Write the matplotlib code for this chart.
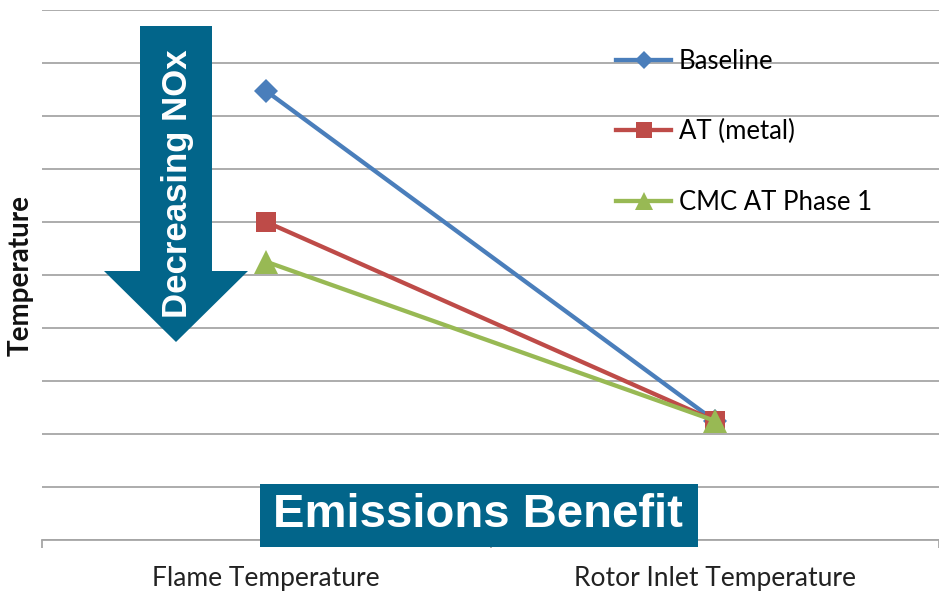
import matplotlib
matplotlib.use("Agg")
import matplotlib.pyplot as plt
from matplotlib.patches import Polygon, Rectangle

# Chart data
categories = ["Flame Temperature", "Rotor Inlet Temperature"]
series_names = ["Baseline", "AT (metal)", "CMC AT Phase 1"]
baseline = [8.47, 2.25]
at_metal = [6.0, 2.25]
cmc_at_phase1 = [5.25, 2.25]
y_gridlines = list(range(0, 11))

colors = ["#4A7EBB", "#BE4B48", "#98B954"]
markers = ["D", "s", "^"]
marker_sizes = [12, 15, 17]
teal = "#02658A"
body_font = "Lato"
bold_font = "Liberation Sans"

W, H = 939, 591
fig = plt.figure(figsize=(W / 100, H / 100), dpi=100)
fig.patch.set_facecolor("white")

def fx(px):
    return px / W

def fy(py):
    return 1 - py / H

ax = fig.add_axes([fx(42), fy(540), fx(939) - fx(42), fy(10) - fy(540)])
ax.set_xlim(-0.5, 1.5)
ax.set_ylim(0, 10)

x = list(range(len(categories)))
for vals, name, c, m, ms in zip([baseline, at_metal, cmc_at_phase1],
                                series_names, colors, markers, marker_sizes):
    ax.plot(x, vals, color=c, lw=3.1, marker=m, ms=ms, mec=c, mew=0,
            label=name, zorder=3, clip_on=False)

# Horizontal gridlines
ax.set_yticks(y_gridlines)
ax.yaxis.grid(True, color="#A6A6A6", lw=1.3)
ax.set_axisbelow(True)
ax.tick_params(axis="y", length=0, labelleft=False)
for s in ["left", "right", "top"]:
    ax.spines[s].set_visible(False)
ax.spines["bottom"].set_color("#A6A6A6")
ax.spines["bottom"].set_linewidth(1.3)

ax.set_xticks(x)
ax.set_xticklabels(categories, fontsize=19, family=body_font, color="#222222")
ax.set_xticks([-0.5, 0.5, 1.5], minor=True)
ax.tick_params(axis="x", which="major", length=0, pad=19)
ax.tick_params(axis="x", which="minor", length=6, color="#A6A6A6", width=1.3)

ax.set_ylabel("Temperature", fontsize=20, fontweight="bold",
              family=body_font, color="#111111")
ax.yaxis.set_label_coords(fx(34 - 42) / (fx(939) - fx(42)), 0.5)

leg = ax.legend(loc="upper left", bbox_to_anchor=(fx(593), fy(26)),
                bbox_transform=fig.transFigure, frameon=False,
                prop={"family": body_font, "size": 18.5},
                handlelength=2.15, handletextpad=0.3, labelspacing=1.76,
                markerscale=0.75)

# Downward arrow annotation
arrow = Polygon([(fx(140), fy(26)), (fx(212), fy(26)), (fx(212), fy(271)),
                 (fx(248), fy(271)), (fx(176), fy(342)), (fx(104), fy(271)),
                 (fx(140), fy(271))], closed=True, facecolor=teal,
                edgecolor="none", transform=fig.transFigure, zorder=5)
fig.patches.append(arrow)
fig.text(fx(177), fy(184), "Decreasing NOx", rotation=90, color="white",
         fontsize=25, fontweight="bold", family=bold_font,
         ha="center", va="center", zorder=6)

# Banner
banner = Rectangle((fx(260), fy(547)), fx(698) - fx(260), fy(484) - fy(547),
                   facecolor=teal, edgecolor="none",
                   transform=fig.transFigure, zorder=5)
fig.patches.append(banner)
fig.text(fx(478), fy(515), "Emissions Benefit", color="white", fontsize=34,
         fontweight="bold", family=bold_font, ha="center", va="center",
         zorder=6)

fig.savefig("out.png", dpi=100, facecolor="white")
